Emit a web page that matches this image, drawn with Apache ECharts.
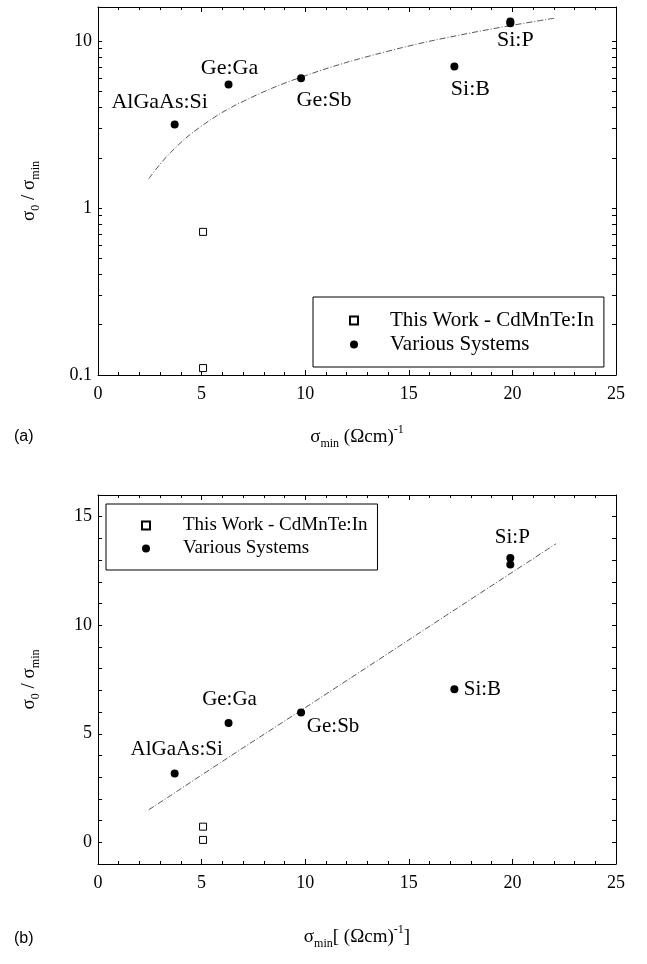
<!DOCTYPE html>
<html>
<head>
<meta charset="utf-8">
<script src="https://cdn.jsdelivr.net/npm/echarts@6/dist/echarts.min.js"></script>
<style>
  html, body { margin: 0; padding: 0; background: #fff; }
  #chart { width: 647px; height: 964px; }
</style>
</head>
<body>
<div id="chart"></div>
<script>
// Conductivity ratio σ0/σmin against σmin for several doped semiconductors
const systemNames    = ['AlGaAs:Si', 'Ge:Ga', 'Ge:Sb', 'Si:B', 'Si:P', 'Si:P'];
const systemSigmaMin = [3.7, 6.3, 9.8, 17.2, 19.9, 19.9];
const systemRatio    = [3.17, 5.5, 5.98, 7.05, 13.1, 12.8];

// CdMnTe:In samples
const cdmnteSigmaMin = [5.07, 5.07];
const cdmnteRatio    = [0.72, 0.11];

// Fitted trend line
const fitSigmaMin = [2.45, 3.5, 5, 7, 10, 14, 18, 22.1];
const fitRatio    = [1.5, 2.15, 3.1, 4.35, 6.2, 8.7, 11.2, 13.75];

// Axis ticks
const xTickLabels   = [0, 5, 10, 15, 20, 25];
const logTickLabels = [0.1, 1, 10];
const logMinorTicks = [0.2, 0.3, 0.4, 0.5, 0.6, 0.7, 0.8, 0.9, 2, 3, 4, 5, 6, 7, 8, 9];
const linTickLabels = [0, 5, 10, 15];
const linMinorTicks = [-1, 1, 2, 3, 4, 6, 7, 8, 9, 11, 12, 13, 14, 16];

const SERIF = '"Liberation Serif", "Times New Roman", serif';
const SANS = '"Liberation Sans", Arial, sans-serif';
const LEGEND_NAMES = ['This Work - CdMnTe:In', 'Various Systems'];

// label placement (offset from the marker centre) for each panel
const labelOffsetLog = {
  'AlGaAs:Si': [-15, -22], 'Ge:Ga': [1, -16], 'Ge:Sb': [23, 22], 'Si:B': [16, 23], 'Si:P': [5, 19]
};
const labelOffsetLin = {
  'AlGaAs:Si': [2, -24], 'Ge:Ga': [1, -23], 'Ge:Sb': [32, 14], 'Si:B': [28, 0], 'Si:P': [2, -20]
};

function zip(xs, ys) { return xs.map((x, i) => [x, ys[i]]); }

function systemData(offsets, fontSize) {
  const seen = {};
  return systemNames.map((name, i) => {
    const first = !seen[name];
    seen[name] = true;
    return {
      name: name,
      value: [systemSigmaMin[i], systemRatio[i]],
      label: {
        show: first,
        position: 'inside',
        offset: offsets[name],
        formatter: '{b}',
        color: '#000',
        opacity: 1,
        fontFamily: SERIF,
        fontSize: fontSize
      }
    };
  });
}

const axisLine = { show: true, onZero: false, lineStyle: { color: '#000', width: 1 } };
const tickLabelStyle = { color: '#000', fontFamily: SERIF, fontSize: 18 };

function xAxis(grid, pos, withLabels, name, nameGap) {
  return {
    type: 'value', gridIndex: grid, position: pos,
    min: 0, max: 25, interval: 5,
    axisLine: axisLine,
    axisTick: { show: true, inside: true, length: 5, lineStyle: { color: '#000' } },
    minorTick: { show: true, splitNumber: 5, length: 3, lineStyle: { color: '#000' } },
    axisLabel: Object.assign({ show: withLabels, margin: 10 }, tickLabelStyle),
    splitLine: { show: false },
    name: name || '', nameLocation: 'middle', nameGap: nameGap || 0,
    nameTextStyle: nameRich()
  };
}

function nameRich() {
  return {
    color: '#000', fontFamily: SERIF,
    rich: {
      s: { fontSize: 19, lineHeight: 26, fontFamily: SERIF, color: '#000', verticalAlign: 'middle' },
      sub: { fontSize: 12, lineHeight: 12, fontFamily: SERIF, color: '#000', verticalAlign: 'bottom' },
      sup: { fontSize: 12, lineHeight: 12, fontFamily: SERIF, color: '#000', verticalAlign: 'top' }
    }
  };
}

const yName = '{s|σ}{sub|0}{s| / σ}{sub|min}';
const openSquare = { color: '#fff', borderColor: '#000', borderWidth: 1, opacity: 1 };
const solidDot = { color: '#000', opacity: 1 };

const option = {
  backgroundColor: '#fff',
  animation: false,
  grid: [
    { left: 98, top: 7, width: 518, height: 368 },
    { left: 98, top: 495, width: 518, height: 369 }
  ],
  xAxis: [
    xAxis(0, 'bottom', true, '{s|σ}{sub|min}{s| (Ωcm)}{sup|-1}', 49),
    xAxis(0, 'top', false),
    xAxis(1, 'bottom', true, '{s|σ}{sub|min}{s|[ (Ωcm)}{sup|-1}{s|]}', 60),
    xAxis(1, 'top', false)
  ],
  yAxis: [
    {
      type: 'log', logBase: 10, gridIndex: 0, position: 'left', min: 0.1, max: 16,
      axisLine: axisLine,
      axisTick: { show: true, inside: true, length: 4, customValues: logTickLabels.concat(logMinorTicks), lineStyle: { color: '#000' } },
      axisLabel: Object.assign({ customValues: logTickLabels, margin: 6 }, tickLabelStyle),
      splitLine: { show: false },
      name: yName, nameLocation: 'middle', nameRotate: 90, nameGap: 56, nameTextStyle: nameRich()
    },
    {
      type: 'log', logBase: 10, gridIndex: 0, position: 'right', min: 0.1, max: 16,
      axisLine: axisLine,
      axisTick: { show: true, inside: true, length: 4, customValues: logTickLabels.concat(logMinorTicks), lineStyle: { color: '#000' } },
      axisLabel: { show: false },
      splitLine: { show: false }
    },
    {
      type: 'value', gridIndex: 1, position: 'left', min: -1, max: 16,
      axisLine: axisLine,
      axisTick: { show: true, inside: true, length: 4, customValues: linTickLabels.concat(linMinorTicks), lineStyle: { color: '#000' } },
      axisLabel: Object.assign({ customValues: linTickLabels, margin: 6 }, tickLabelStyle),
      splitLine: { show: false },
      name: yName, nameLocation: 'middle', nameRotate: 90, nameGap: 56, nameTextStyle: nameRich()
    },
    {
      type: 'value', gridIndex: 1, position: 'right', min: -1, max: 16,
      axisLine: axisLine,
      axisTick: { show: true, inside: true, length: 4, customValues: linTickLabels.concat(linMinorTicks), lineStyle: { color: '#000' } },
      axisLabel: { show: false },
      splitLine: { show: false }
    }
  ],
  legend: [
    {
      data: LEGEND_NAMES, orient: 'vertical', left: 313, top: 297,
      padding: [13, 10, 12, 36], itemGap: 3, itemWidth: 8, itemHeight: 8,
      borderColor: '#000', borderWidth: 1, backgroundColor: '#fff', borderRadius: 0,
      selectedMode: false,
      textStyle: { color: '#000', fontFamily: SERIF, fontSize: 21, padding: [0, 0, 0, 27] }
    },
    {
      data: LEGEND_NAMES, orient: 'vertical', left: 106, top: 504,
      padding: [12, 10, 12, 35], itemGap: 4, itemWidth: 8, itemHeight: 8,
      borderColor: '#000', borderWidth: 1, backgroundColor: '#fff', borderRadius: 0,
      selectedMode: false,
      textStyle: { color: '#000', fontFamily: SERIF, fontSize: 19, padding: [0, 0, 0, 28] }
    }
  ],
  graphic: [
    { type: 'text', left: 14, top: 429, style: { text: '(a)', font: '16px ' + SANS, fill: '#000' } },
    { type: 'text', left: 14, top: 931, style: { text: '(b)', font: '16px ' + SANS, fill: '#000' } }
  ],
  series: [
    {
      type: 'line', name: 'fit', xAxisIndex: 0, yAxisIndex: 0,
      data: zip(fitSigmaMin, fitRatio), smooth: 0.4, showSymbol: false, silent: true,
      lineStyle: { color: '#444', width: 0.9, type: [6, 2, 1, 2] }, z: 1
    },
    {
      type: 'scatter', name: LEGEND_NAMES[0], xAxisIndex: 0, yAxisIndex: 0,
      symbol: 'rect', symbolSize: 7, itemStyle: openSquare,
      data: zip(cdmnteSigmaMin, cdmnteRatio), z: 3
    },
    {
      type: 'scatter', name: LEGEND_NAMES[1], xAxisIndex: 0, yAxisIndex: 0,
      symbol: 'circle', symbolSize: 8, itemStyle: solidDot,
      data: systemData(labelOffsetLog, 22), z: 3
    },
    {
      type: 'line', name: 'fit', xAxisIndex: 2, yAxisIndex: 2,
      data: zip(fitSigmaMin, fitRatio), showSymbol: false, silent: true,
      lineStyle: { color: '#444', width: 0.9, type: [6, 2, 1, 2] }, z: 1
    },
    {
      type: 'scatter', name: LEGEND_NAMES[0], xAxisIndex: 2, yAxisIndex: 2,
      symbol: 'rect', symbolSize: 7, itemStyle: openSquare,
      data: zip(cdmnteSigmaMin, cdmnteRatio), z: 3
    },
    {
      type: 'scatter', name: LEGEND_NAMES[1], xAxisIndex: 2, yAxisIndex: 2,
      symbol: 'circle', symbolSize: 8, itemStyle: solidDot,
      data: systemData(labelOffsetLin, 21), z: 3
    }
  ]
};

const chart = echarts.init(document.getElementById('chart'), null, { renderer: 'canvas' });
chart.setOption(option);
</script>
</body>
</html>
